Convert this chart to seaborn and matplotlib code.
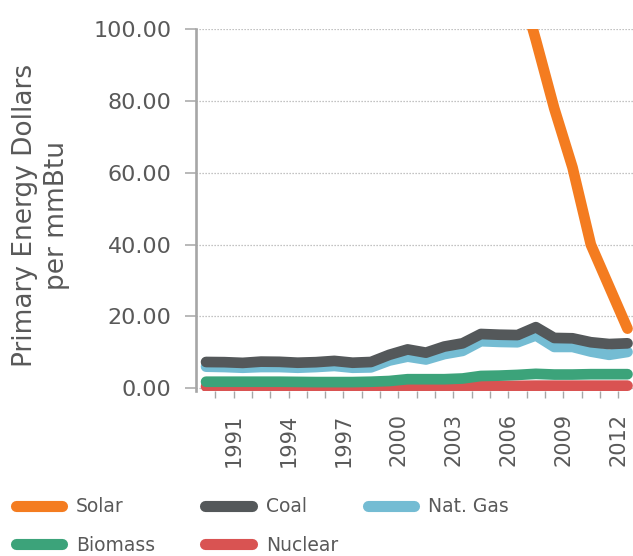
import numpy as np
import pandas as pd
import matplotlib
matplotlib.use("Agg")
import matplotlib.pyplot as plt
from matplotlib.lines import Line2D
from matplotlib.ticker import FormatStrFormatter
import seaborn as sns

years = list(range(1990, 2014))
# solar is off the top of the chart before 2007
solar = [np.nan] * 17 + [115, 97, 78, 61.5, 40, 28.3, 16.6]
coal = [7.3, 7.25, 7.05, 7.4, 7.35, 7.1, 7.25, 7.6, 7.1, 7.3, 9.3, 10.8,
        9.9, 11.6, 12.5, 15.1, 14.9, 14.8, 17.0, 14.0, 13.9, 12.8, 12.3, 12.5]
nat_gas = [6.0, 5.9, 5.7, 5.9, 5.9, 5.7, 5.9, 6.2, 5.7, 5.8, 7.7, 8.8,
           8.0, 9.5, 10.4, 13.1, 12.9, 12.8, 14.7, 11.5, 11.5, 10.2, 9.3, 10.1]
biomass = [1.8, 1.8, 1.8, 1.8, 1.8, 1.75, 1.7, 1.7, 1.7, 1.8, 2.0, 2.5,
           2.5, 2.5, 2.7, 3.4, 3.5, 3.7, 4.0, 3.8, 3.8, 3.9, 3.9, 3.9]
nuclear = [0.45, 0.45, 0.45, 0.45, 0.45, 0.45, 0.45, 0.45, 0.45, 0.45, 0.5, 0.5,
           0.5, 0.5, 0.55, 0.65, 0.65, 0.65, 0.7, 0.7, 0.7, 0.7, 0.7, 0.7]
year_labels = ["1991", "1994", "1997", "2000", "2003", "2006", "2009", "2012"]

series = {"Solar": solar, "Coal": coal, "Nat. Gas": nat_gas,
          "Biomass": biomass, "Nuclear": nuclear}
colors = {"Solar": "#f47c20", "Coal": "#54585a", "Nat. Gas": "#74bcd3",
          "Biomass": "#3ca37a", "Nuclear": "#d95352"}
draw_order = ["Nuclear", "Biomass", "Nat. Gas", "Coal", "Solar"]

rows = [(y, name, v) for name, vals in series.items() for y, v in zip(years, vals)]
df = pd.DataFrame(rows, columns=["year", "fuel", "cost"])

sns.set_style("white")
plt.rcParams["font.family"] = ["DejaVu Sans"]
txt = "#595959"
gray = "#a6a6a6"

fig = plt.figure(figsize=(6.33, 5.56), dpi=100)
ax = fig.add_axes([0.3096, 0.2973, 0.6904, 0.650])
ax.set_axisbelow(True)

sns.lineplot(data=df, x="year", y="cost", hue="fuel", hue_order=draw_order,
             palette=colors, linewidth=7.7, errorbar=None, legend=False, ax=ax)
for ln in ax.lines:
    ln.set_solid_capstyle("round")
    ln.set_solid_joinstyle("round")

ax.set_xlim(1989.45, 2013.3)
ax.set_ylim(-0.7, 100)

# x ticks sit on the boundaries between years
bounds = [y + 0.5 for y in years[:-1]]
lbls = [str(int(b - 0.5)) if str(int(b - 0.5)) in year_labels else "" for b in bounds]
ax.set_xticks(bounds)
ax.set_xticklabels(lbls, rotation=90)
ax.set_yticks([0, 20, 40, 60, 80, 100])
ax.yaxis.set_major_formatter(FormatStrFormatter("%.2f"))

ax.tick_params(axis="x", bottom=True, length=4.7, width=1, color=gray,
               pad=11.6, labelsize=15, labelcolor=txt)
ax.tick_params(axis="y", left=True, length=8, width=1.1, color=gray,
               pad=9.5, labelsize=16, labelcolor=txt)

ax.yaxis.grid(True, linestyle=(0, (1, 1.4)), color="#b0b0b0", linewidth=0.9)
ax.xaxis.grid(False)
for s in ["top", "right", "bottom"]:
    ax.spines[s].set_visible(False)
ax.spines["left"].set_color(gray)
ax.spines["left"].set_linewidth(1.9)

ax.set_xlabel("")
ax.set_ylabel("Primary Energy Dollars\nper mmBtu", fontsize=19, color=txt,
              linespacing=1.29)
ax.yaxis.set_label_coords(-0.289, 0.485)

# legend laid out in three columns like the original
cols = [(["Solar", "Biomass"], 0.0245), (["Coal", "Nuclear"], 0.3246),
        (["Nat. Gas"], 0.5806)]
for names, x0 in cols:
    hs = [Line2D([], [], color=colors[n], lw=8, solid_capstyle="round") for n in names]
    fig.legend(hs, names, loc="upper left", bbox_to_anchor=(x0, 0.106),
               frameon=False, fontsize=13.5, handlelength=2.5,
               handletextpad=0.72, labelspacing=1.06, borderpad=0,
               borderaxespad=0, labelcolor=txt)

fig.savefig("out.png", dpi=100)
